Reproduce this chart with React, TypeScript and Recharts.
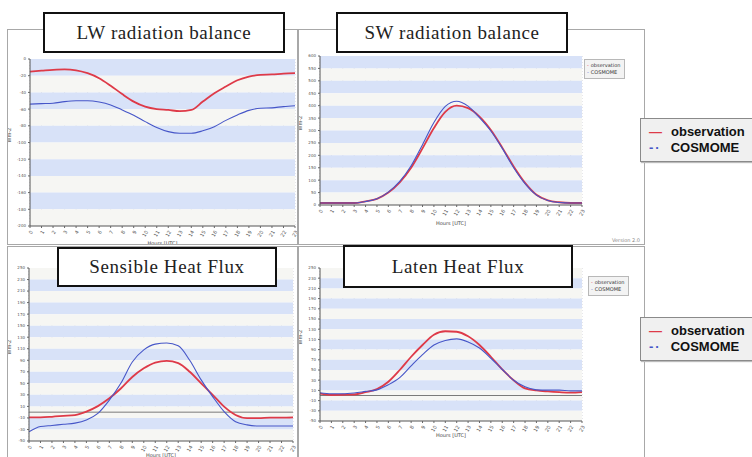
import React from 'react';
import {
  LineChart,
  Line,
  XAxis,
  YAxis,
  CartesianGrid,
  ReferenceLine,
  ReferenceArea,
  Legend,
} from 'recharts';

// hours of the day, shared by all four panels
const hours = [0, 1, 2, 3, 4, 5, 6, 7, 8, 9, 10, 11, 12, 13, 14, 15, 16, 17, 18, 19, 20, 21, 22, 23];
const seriesNames = ['observation', 'COSMOME'];

// LW radiation balance (W m-2)
const lwObs = [-15, -14, -13, -12.5, -13.5, -17, -23, -32, -42, -51, -57, -60, -61, -62.5, -61, -51, -41, -33, -25.5, -21, -19, -18.5, -17.5, -17];
const lwModel = [-54, -53.5, -53, -51, -50, -50, -51.5, -55, -61, -67.5, -75, -82, -87, -89, -89, -86, -81, -73.5, -67, -61.5, -59, -58.5, -57, -56];
const lwTicks = [0, -20, -40, -60, -80, -100, -120, -140, -160, -180, -200];

// SW radiation balance
const swObs = [8, 8, 8, 8, 15, 25, 50, 91, 150, 228, 310, 375, 400, 390, 356, 302, 231, 155, 89, 41, 19, 11, 8, 8];
const swModel = [8, 8, 8, 8, 14, 25, 52, 95, 158, 243, 332, 397, 418, 398, 352, 298, 228, 150, 86, 40, 18, 10, 8, 8];
const swTicks = [600, 550, 500, 450, 400, 350, 300, 250, 200, 150, 100, 50, 0];

// Sensible heat flux
const shObs = [-9, -9, -8, -6.5, -5, 1, 10.5, 24, 41, 61, 76, 86, 89, 85, 70, 50, 30, 9.5, -5, -10.5, -10.5, -9.5, -9.5, -9];
const shModel = [-34, -25, -23, -21, -19, -13.5, -2, 21, 50, 87, 108, 118, 120, 115, 90, 56, 27, 1, -16.5, -22, -24, -24, -24, -24];

// Laten heat flux
const lhObs = [3.5, 1, 1.5, 2, 6.5, 12.5, 27, 50, 76, 99, 119, 126, 125, 116, 99, 76, 51, 30, 14, 10, 8, 6.5, 5.5, 6.5];
const lhModel = [5.5, 3.5, 3.5, 5, 8, 11, 21, 35, 58, 80, 99, 108, 111, 105, 93, 73, 51, 30, 17, 11, 10.5, 10.5, 9, 9];

const fluxTicks = [250, 230, 210, 190, 170, 150, 130, 110, 90, 70, 50, 30, 10, -10, -30, -50];

const OBS_COLOR = '#de3a48';
const MODEL_COLOR = '#4656c8';
const BAND_BLUE = '#d8e2f8';
const BAND_WHITE = '#f6f6f3';

const makeRows = (obs: number[], model: number[]) =>
  hours.map((h, i) => ({ hour: h, observation: obs[i], COSMOME: model[i] }));

const SmallLegend = (props: any) => {
  const payload = props.payload || [];
  const items = seriesNames
    .map((n) => payload.find((p: any) => p.value === n))
    .filter(Boolean);
  return (
    <div
      style={{
        background: '#f3f3f3',
        border: '1px solid #b8b8b8',
        padding: '2px 4px 2px 2px',
        fontSize: 5,
        lineHeight: '7px',
        fontFamily: 'DejaVu Sans, sans-serif',
        color: '#333',
      }}
    >
      {items.map((p: any) => (
        <div key={p.value} style={{ whiteSpace: 'nowrap' }}>
          <span style={{ color: p.color, marginRight: 2 }}>-</span>
          {p.value}
        </div>
      ))}
    </div>
  );
};

interface PanelProps {
  left: number;
  top: number;
  width: number;
  height: number;
  chartHeight: number;
  margin: { top: number; right: number; left: number; bottom: number };
  yWidth: number;
  xHeight: number;
  obs: number[];
  model: number[];
  ticks: number[]; // listed top to bottom
  blueFirst: boolean;
  zeroLine?: boolean;
  legendPos?: { left: number; top: number };
}

const Panel: React.FC<PanelProps> = (p) => {
  const data = makeRows(p.obs, p.model);
  const lo = Math.min(...p.ticks);
  const hi = Math.max(...p.ticks);
  // alternating bands between consecutive ticks, counted from the top
  const bands = p.ticks.slice(0, -1).map((t, i) => ({
    y1: t,
    y2: p.ticks[i + 1],
    fill: (i % 2 === 0) === p.blueFirst ? BAND_BLUE : BAND_WHITE,
  }));
  return (
    <div
      style={{
        position: 'absolute',
        left: p.left,
        top: p.top,
        width: p.width,
        height: p.height,
        border: '1px solid #a8a8a8',
        boxSizing: 'border-box',
        background: '#fff',
        overflow: 'hidden',
      }}
    >
      <div style={{ position: 'absolute', left: -1, top: -1 }}>
        <LineChart
          width={p.width}
          height={p.chartHeight}
          data={data}
          margin={p.margin}
          style={{ fontFamily: 'DejaVu Sans, sans-serif' }}
        >
          {bands.map((b, i) => (
            <ReferenceArea
              key={i}
              y1={b.y1}
              y2={b.y2}
              fill={b.fill}
              fillOpacity={1}
              stroke="none"
              ifOverflow="hidden"
            />
          ))}
          <CartesianGrid stroke="#cfcfd6" strokeDasharray="1 2" horizontal={false} />
          <XAxis
            dataKey="hour"
            interval={0}
            height={p.xHeight}
            angle={-60}
            textAnchor="end"
            tick={{ fontSize: 5, fill: '#555' }}
            tickLine={{ stroke: '#666' }}
            tickSize={2}
            axisLine={{ stroke: '#555' }}
            label={{ value: 'Hours [UTC]', position: 'insideBottom', offset: 0, fontSize: 5, fill: '#444' }}
          />
          <YAxis
            type="number"
            domain={[lo, hi]}
            ticks={p.ticks}
            width={p.yWidth}
            interval={0}
            tick={{ fontSize: 4, fill: '#555' }}
            tickLine={{ stroke: '#666' }}
            tickSize={2}
            axisLine={{ stroke: '#555' }}
            label={{ value: 'Wm-2', angle: -90, position: 'insideLeft', offset: 2, fontSize: 5, fill: '#444' }}
          />
          {p.zeroLine && <ReferenceLine y={0} stroke="#7a7a7a" strokeWidth={1} />}
          {p.legendPos && (
            <Legend
              layout="vertical"
              content={<SmallLegend />}
              wrapperStyle={{ position: 'absolute', left: p.legendPos.left, top: p.legendPos.top, width: 'auto' }}
            />
          )}
          <Line
            type="monotone"
            dataKey="observation"
            stroke={OBS_COLOR}
            strokeWidth={1.8}
            dot={false}
            isAnimationActive={false}
          />
          <Line
            type="monotone"
            dataKey="COSMOME"
            stroke={MODEL_COLOR}
            strokeWidth={1.1}
            dot={false}
            isAnimationActive={false}
          />
        </LineChart>
      </div>
    </div>
  );
};

const TitleBox: React.FC<{ text: string; left: number; top: number; width: number; height: number }> = ({
  text,
  left,
  top,
  width,
  height,
}) => (
  <div
    style={{
      position: 'absolute',
      left,
      top,
      width,
      height,
      boxSizing: 'border-box',
      border: '2px solid #111',
      background: '#fff',
      display: 'flex',
      alignItems: 'center',
      justifyContent: 'center',
      fontFamily: '"Liberation Serif", "DejaVu Serif", serif',
      fontSize: 19,
      letterSpacing: 0.6,
      color: '#222',
      zIndex: 5,
    }}
  >
    {text}
  </div>
);

const BigLegend: React.FC<{ top: number }> = ({ top }) => (
  <div
    style={{
      position: 'absolute',
      left: 640,
      top,
      width: 130,
      height: 44,
      boxSizing: 'border-box',
      background: '#f0f0f0',
      border: '1px solid #8a8a8a',
      boxShadow: '1px 1px 1px #bbb',
      fontFamily: '"Liberation Sans", Arial, sans-serif',
      fontWeight: 'bold',
      fontSize: 13,
      lineHeight: '16px',
      paddingTop: 5,
      paddingLeft: 8,
      color: '#111',
      zIndex: 6,
    }}
  >
    <div>
      <span style={{ color: OBS_COLOR, marginRight: 9 }}>—</span>observation
    </div>
    <div>
      <span style={{ color: MODEL_COLOR, marginRight: 9, letterSpacing: 2 }}>-·</span>COSMOME
    </div>
  </div>
);

export default function App() {
  return (
    <div
      style={{
        position: 'absolute',
        left: 0,
        top: 0,
        width: 752,
        height: 457,
        overflow: 'hidden',
        background: '#fff',
      }}
    >
      <Panel
        left={7}
        top={29}
        width={291}
        height={216}
        chartHeight={216}
        margin={{ top: 30, right: 3, left: 0, bottom: 0 }}
        yWidth={23}
        xHeight={19}
        obs={lwObs}
        model={lwModel}
        ticks={lwTicks}
        blueFirst
      />
      <Panel
        left={298}
        top={29}
        width={347}
        height={216}
        chartHeight={216}
        margin={{ top: 27, right: 63, left: 0, bottom: 0 }}
        yWidth={22}
        xHeight={20}
        obs={swObs}
        model={swModel}
        ticks={swTicks}
        blueFirst
        legendPos={{ left: 286, top: 30 }}
      />
      <Panel
        left={7}
        top={246}
        width={291}
        height={216}
        chartHeight={211}
        margin={{ top: 22, right: 5, left: 0, bottom: 0 }}
        yWidth={22}
        xHeight={16}
        obs={shObs}
        model={shModel}
        ticks={fluxTicks}
        blueFirst={false}
        zeroLine
      />
      <Panel
        left={298}
        top={246}
        width={347}
        height={216}
        chartHeight={211}
        margin={{ top: 22, right: 63, left: 0, bottom: 0 }}
        yWidth={22}
        xHeight={16}
        obs={lhObs}
        model={lhModel}
        ticks={fluxTicks}
        blueFirst={false}
        zeroLine
        legendPos={{ left: 290, top: 30 }}
      />
      <div
        style={{
          position: 'absolute',
          left: 612,
          top: 237,
          fontSize: 5,
          color: '#888',
          fontFamily: 'DejaVu Sans, sans-serif',
        }}
      >
        Version 2.0
      </div>
      <TitleBox text="LW radiation balance" left={43} top={12} width={242} height={41} />
      <TitleBox text="SW radiation balance" left={336} top={12} width={232} height={41} />
      <TitleBox text="Sensible Heat Flux" left={57} top={247} width={220} height={40} />
      <TitleBox text="Laten Heat Flux" left={343} top={245} width={230} height={43} />
      <BigLegend top={118} />
      <BigLegend top={317} />
    </div>
  );
}
